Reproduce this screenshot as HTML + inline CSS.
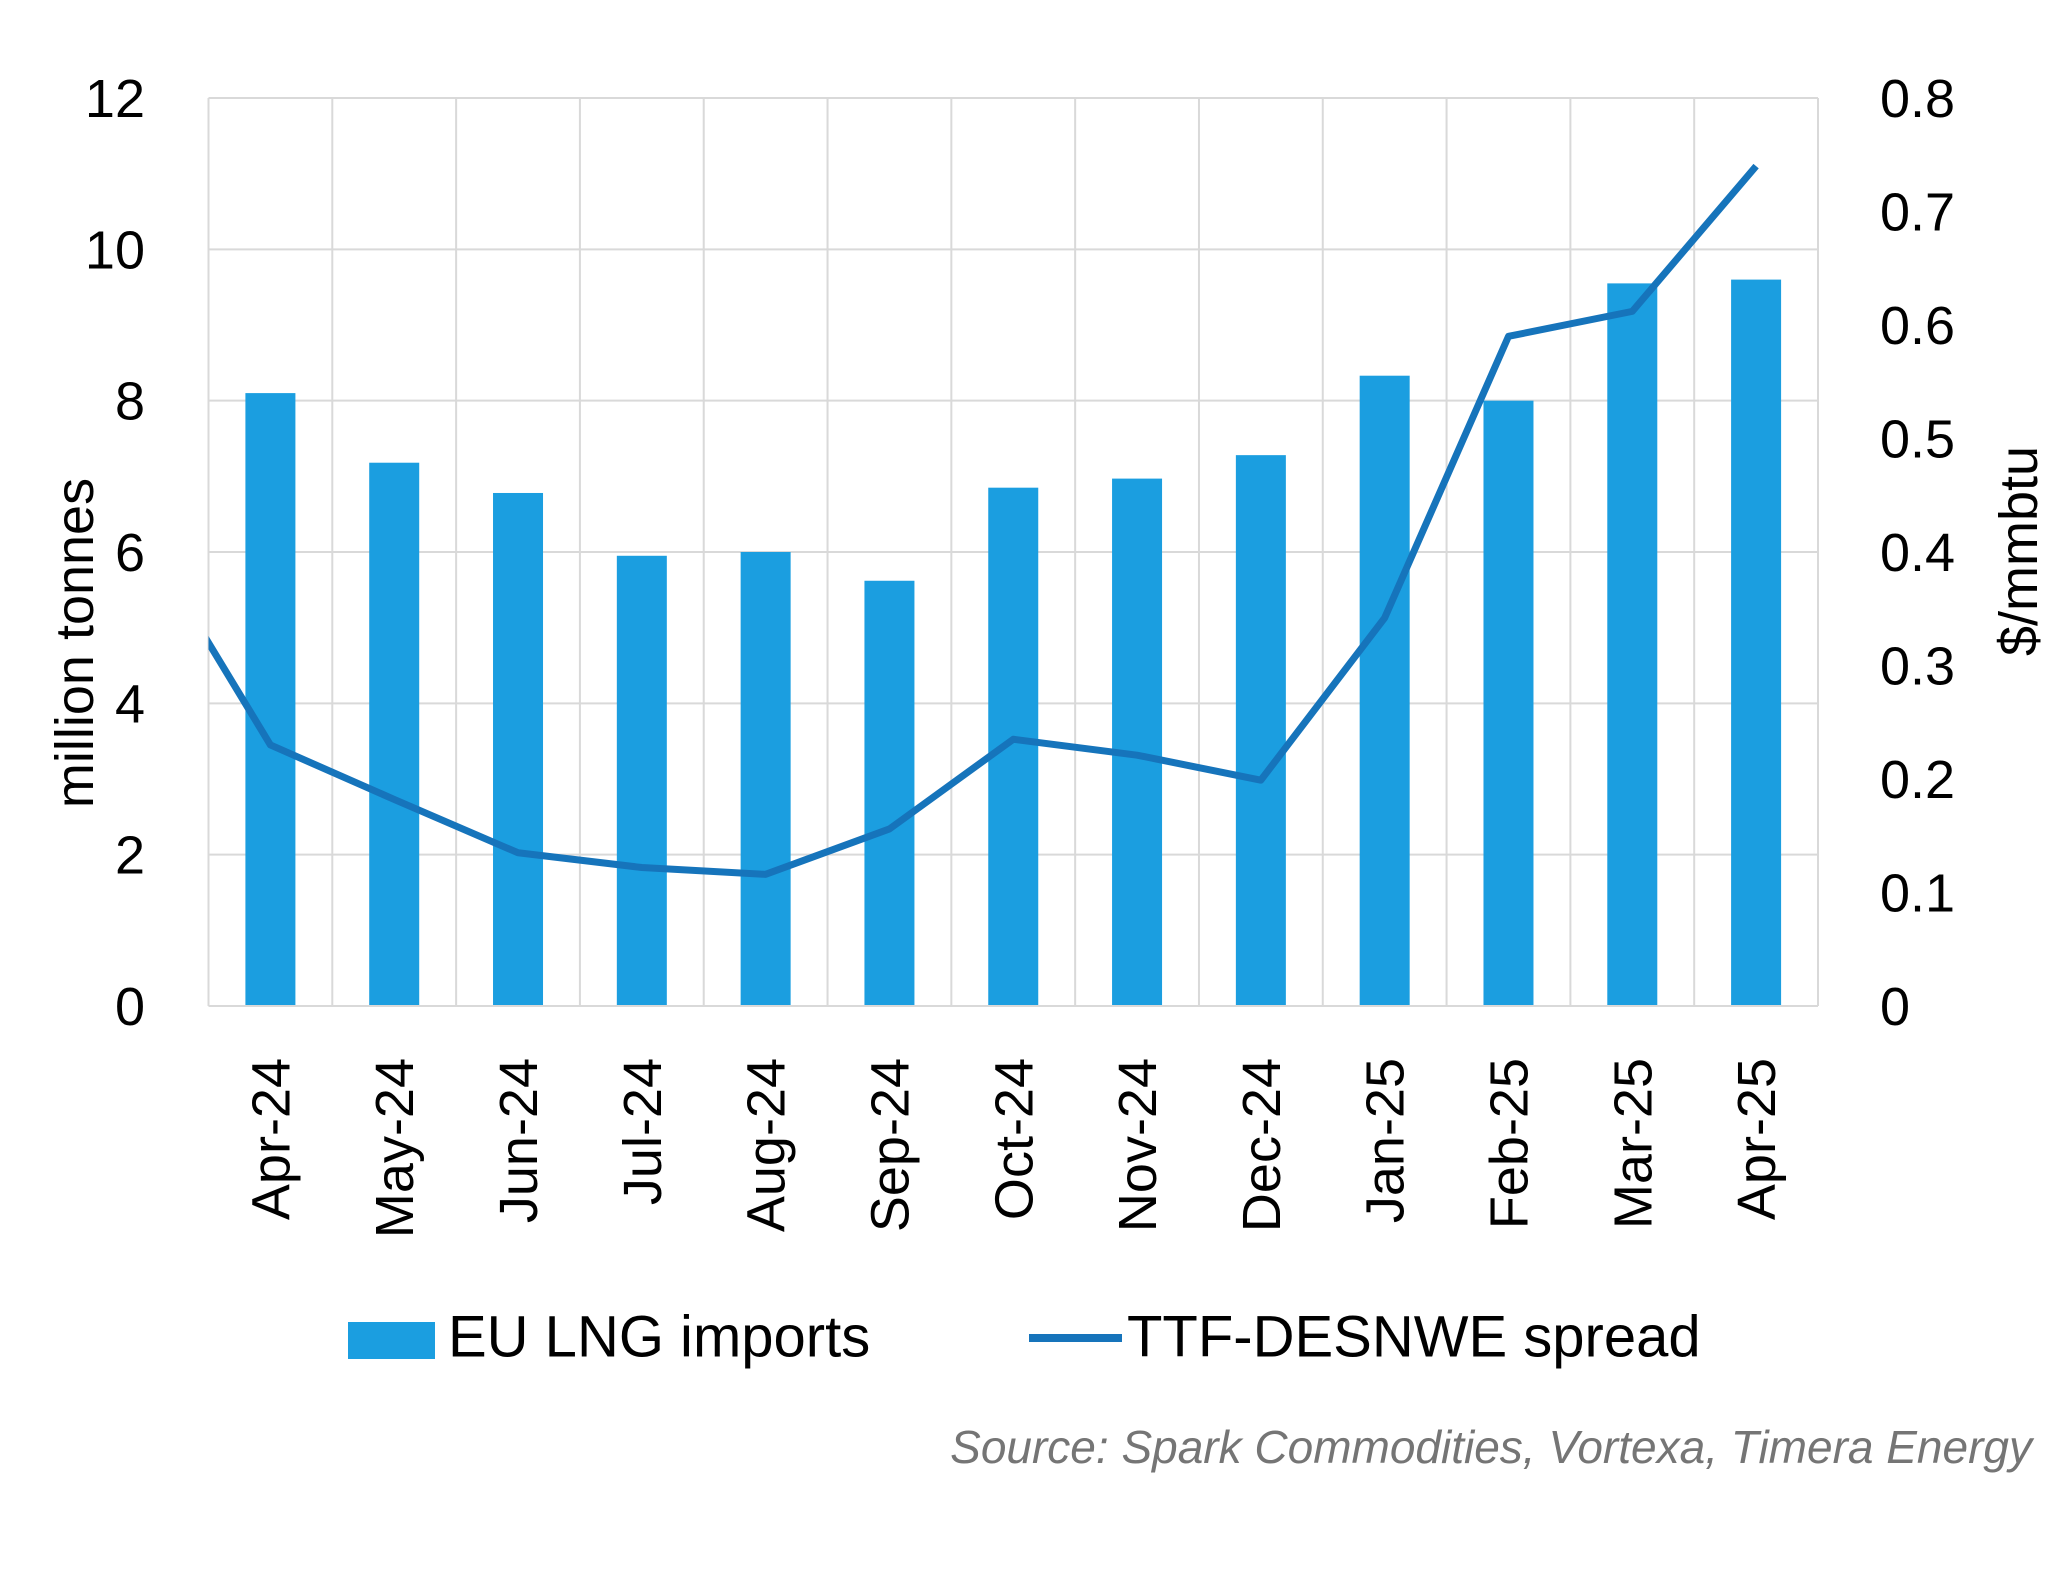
<!DOCTYPE html>
<html><head><meta charset="utf-8"><style>
html,body{margin:0;padding:0;background:#fff}
svg{display:block;font-family:"Liberation Sans",sans-serif}
</style></head><body>
<svg id="c" width="2069" height="1578" viewBox="0 0 2069 1578">
<defs><clipPath id="pc"><rect x="208.5" y="90" width="1609.5" height="930"/></clipPath></defs>
<g id="grid"></g><g id="bars"></g><g id="line" clip-path="url(#pc)"></g><g id="axes"></g>
<text transform="translate(93,643) rotate(-90)" text-anchor="middle" font-size="54" fill="#000">million tonnes</text>
<text transform="translate(2037,551) rotate(-90)" text-anchor="middle" font-size="54" fill="#000">$/mmbtu</text>
<g>
<rect x="348" y="1322" width="87" height="37" fill="#1b9ee0"/>
<text x="448" y="1341" dominant-baseline="middle" font-size="58" fill="#000">EU LNG imports</text>
<line x1="1029" y1="1338" x2="1122" y2="1338" stroke="#1674bb" stroke-width="8"/>
<text x="1127" y="1341" font-size="58" fill="#000" dominant-baseline="middle">TTF-DESNWE spread</text>
</g>
<text x="2032" y="1463" text-anchor="end" font-size="46" font-style="italic" fill="#757575">Source: Spark Commodities, Vortexa, Timera Energy</text>
</svg>
<script>
const categories=["Apr-24","May-24","Jun-24","Jul-24","Aug-24","Sep-24","Oct-24","Nov-24","Dec-24","Jan-25","Feb-25","Mar-25","Apr-25"];
const imports=[8.1,7.18,6.78,5.95,6.0,5.62,6.85,6.97,7.28,8.33,8.0,9.55,9.6];
const spread=[0.23,0.182,0.135,0.122,0.116,0.156,0.235,0.221,0.199,0.342,0.59,0.612,0.74];
const spreadPrev=0.41;
const leftTicks=[0,2,4,6,8,10,12];
const rightTicks=["0","0.1","0.2","0.3","0.4","0.5","0.6","0.7","0.8"];
const NS="http://www.w3.org/2000/svg";
const X0=208.5,X1=1818,Y0=1006,Y1=98;
const bw=(X1-X0)/categories.length;
const xc=i=>X0+bw*(i+0.5);
const yL=v=>Y0-(v/12)*(Y0-Y1);
const yR=v=>Y0-(v/0.8)*(Y0-Y1);
function mk(t,a,p){const e=document.createElementNS(NS,t);for(const k in a)e.setAttribute(k,a[k]);p.appendChild(e);return e;}
const grid=document.getElementById('grid'),bars=document.getElementById('bars'),line=document.getElementById('line'),axes=document.getElementById('axes');
leftTicks.forEach(v=>{const l=mk('line',{x1:X0,x2:X1,y1:yL(v),y2:yL(v),stroke:'#d9d9d9','stroke-width':2},grid);

const t=mk('text',{x:145,y:yL(v)+19,'text-anchor':'end','font-size':54},axes);t.textContent=v;
});
for(let i=0;i<=categories.length;i++){const l=mk('line',{x1:X0+bw*i,x2:X0+bw*i,y1:Y1,y2:Y0,stroke:'#d9d9d9','stroke-width':2},grid);
}
rightTicks.forEach(s=>{const v=parseFloat(s);const t=mk('text',{x:1880,y:yR(v)+19,'font-size':54},axes);t.textContent=s;
});
const ax=mk('line',{x1:X0,x2:X1,y1:Y0,y2:Y0,stroke:'#d9d9d9','stroke-width':2},axes);

imports.forEach((v,i)=>{const r=mk('rect',{x:xc(i)-25,y:yL(v),width:50,height:Y0-yL(v),fill:'#1b9ee0'},bars);
});
categories.forEach((c,i)=>{const t=mk('text',{transform:`translate(${xc(i)+19},1058) rotate(-90)`,'text-anchor':'end','font-size':54},axes);t.textContent=c;
});
let d=`M${xc(-1)},${yR(spreadPrev)}`;spread.forEach((v,i)=>{d+=` L${xc(i)},${yR(v)}`;});
const p=mk('path',{d:d,fill:'none',stroke:'#1674bb','stroke-width':7,'stroke-linejoin':'round'},line);

</script>
</body></html>
